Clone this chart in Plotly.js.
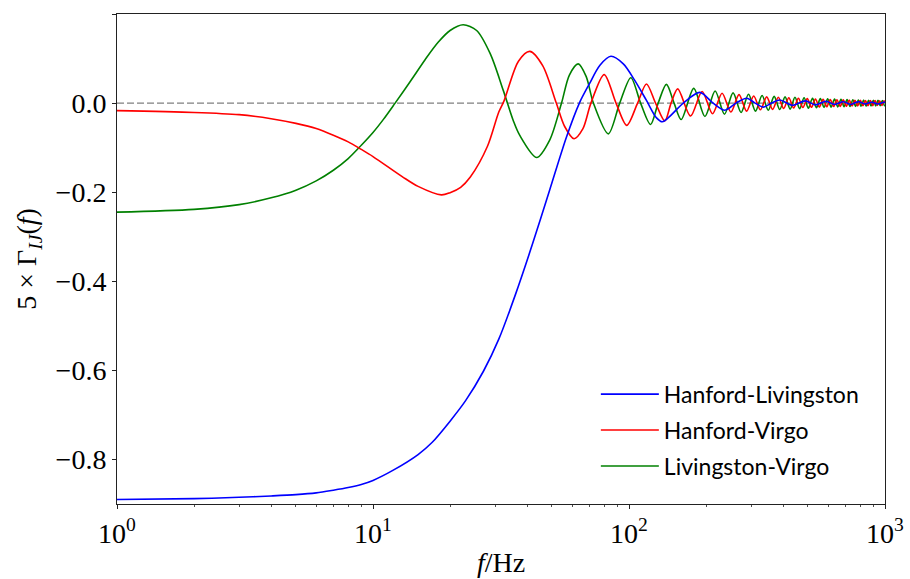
<!DOCTYPE html>
<html>
<head>
<meta charset="utf-8">
<script src="https://cdn.plot.ly/plotly-3.0.1.min.js"></script>
<style>
  html, body { margin: 0; padding: 0; background: #ffffff; }
  #plot { width: 910px; height: 579px; }
</style>
</head>
<body>
<div id="plot"></div>
<script>
// Overlap reduction functions (scaled by 5) for the three detector pairs.

// Hanford-Livingston
const freqHL = [1, 2, 3, 4, 5, 6, 7, 8, 9, 10, 12, 15, 17, 20, 23, 27, 31, 36, 42, 49,
  57, 64, 70, 77, 85, 95, 105, 117, 128, 135, 163, 189, 213, 237, 262, 288, 311, 334,
  361, 388, 435, 488, 535, 588, 635, 688, 735, 788, 835, 888, 935, 988, 1000];
const gammaHL = [-0.890, -0.888, -0.885, -0.882, -0.879, -0.875, -0.869, -0.863, -0.856, -0.847,
  -0.824, -0.789, -0.762, -0.714, -0.668, -0.602, -0.530, -0.430, -0.316, -0.195,
  -0.076, 0.000, 0.043, 0.085, 0.105, 0.088, 0.052, 0.006, -0.033, -0.042, 0.000, 0.024,
  0.000, -0.016, 0.000, 0.011, 0.000, -0.009, 0.000, 0.007, -0.005, 0.005, -0.004, 0.004,
  -0.003, 0.003, -0.003, 0.003, -0.002, 0.002, -0.002, 0.002, 0.0015];

// Hanford-Virgo
const freqHV = [1, 2, 3, 4, 5, 6, 7, 8, 9, 10, 13, 15, 18.5, 20, 22, 24, 28, 31, 32.5, 37, 41,
  46, 52, 56, 61, 66, 71, 80, 89, 98, 108, 117, 127, 138, 146, 155,
  174, 193, 212, 231, 250, 269, 288, 307, 326, 345, 364, 383, 402, 421, 440, 459, 478,
  497, 516, 535, 554, 573, 592, 611, 630, 649, 668, 687, 706, 725, 744, 763, 782, 801,
  820, 839, 858, 877, 896, 915, 934, 953, 972, 991, 1000];
const gammaHV = [-0.017, -0.021, -0.026, -0.035, -0.0455, -0.057, -0.072, -0.087, -0.104, -0.120,
  -0.165, -0.187, -0.206, -0.201, -0.189, -0.166, -0.097, -0.020, 0.005, 0.094, 0.116,
  0.084, 0.000, -0.052, -0.080, -0.058, 0.000, 0.064, 0.000, -0.050, 0.000, 0.043, 0.000,
  -0.040, 0.000, 0.032,
  -0.029, 0.026, -0.024, 0.022, -0.020, 0.019, -0.018, 0.016, -0.015, 0.014, -0.014, 0.013,
  -0.012, 0.012, -0.011, 0.011, -0.010, 0.010, -0.0095, 0.0092, -0.0089, 0.0086, -0.0083,
  0.0080, -0.0078, 0.0076, -0.0074, 0.0072, -0.0070, 0.0068, -0.0066, 0.0065, -0.0063,
  0.0062, -0.0060, 0.0059, -0.0058, 0.0057, -0.0056, 0.0055, -0.0054, 0.0053, -0.0052,
  0.0051, 0.0005];

// Livingston-Virgo
const freqLV = [1, 2, 3, 4, 5, 6, 7, 8, 9, 10, 11, 12.2, 14, 16, 18, 20, 22.5, 25.4, 28.7, 32.3,
  35.3, 37.4, 43.6, 49, 54.5, 58.5, 63.3, 68, 72.6, 83, 92, 101.7, 111, 121.4, 130, 140,
  150, 160, 179, 198, 217, 236, 255, 274, 293, 312, 331, 350, 369, 388, 407, 426, 445,
  464, 483, 502, 521, 540, 559, 578, 597, 616, 635, 654, 673, 692, 711, 730, 749, 768,
  787, 806, 825, 844, 863, 882, 901, 920, 939, 958, 977, 996, 1000];
const gammaLV = [-0.2447, -0.2385, -0.228, -0.2127, -0.1955, -0.1746, -0.1507, -0.1246, -0.0947,
  -0.066, -0.036, 0.000, 0.049, 0.098, 0.137, 0.163, 0.176, 0.163, 0.111, 0.028,
  -0.039, -0.072, -0.122, -0.083, 0.000, 0.063, 0.088, 0.060, 0.000, -0.069, 0.000, 0.057,
  0.000, -0.048, 0.000, 0.042, 0.000, -0.037,
  0.033, -0.030, 0.027, -0.025, 0.023, -0.021, 0.020, -0.018, 0.017, -0.016, 0.015,
  -0.0145, 0.014, -0.0135, 0.013, -0.0125, 0.012, -0.0115, 0.011, -0.0105, 0.010, -0.0097,
  0.0094, -0.0091, 0.0088, -0.0086, 0.0084, -0.0081, 0.0079, -0.0077, 0.0075, -0.0073,
  0.0071, -0.0070, 0.0068, -0.0067, 0.0065, -0.0064, 0.0063, -0.0062, 0.0060, -0.0059,
  0.0058, -0.0057, -0.0050];

// Axis ticks
const yTickVals = [0.2, 0.0, -0.2, -0.4, -0.6, -0.8];
const yTickText = ['0.2', '0.0', '\u22120.2', '\u22120.4', '\u22120.6', '\u22120.8'];
const xTickVals = [1, 10, 100, 1000];
const xTickText = ['10<sup>0</sup>', '10<sup>1</sup>', '10<sup>2</sup>', '10<sup>3</sup>'];

const serif = '"Liberation Serif", "DejaVu Serif", serif';

function curve(x, y, name, color, rank) {
  return {
    x: x, y: y, name: name, type: 'scatter', mode: 'lines',
    line: { color: color, width: 1.6, shape: 'spline', smoothing: 0.85 },
    legendrank: rank, legendgroup: name, hoverinfo: 'skip'
  };
}

const traces = [
  curve(freqLV, gammaLV, 'Livingston-Virgo', '#008000', 3),
  curve(freqHV, gammaHV, 'Hanford-Virgo', '#ff0000', 2),
  curve(freqHL, gammaHL, 'Hanford-Livingston', '#0000ff', 1)
];

const axisCommon = {
  showgrid: false, zeroline: false,
  showline: true, mirror: true, linecolor: '#222222', linewidth: 1,
  ticks: 'outside', ticklen: 4, tickwidth: 1, tickcolor: '#222222',
  tickfont: { family: serif, size: 28, color: '#000000' }
};

const layout = {
  width: 910, height: 579,
  margin: { l: 117, r: 25, t: 14, b: 75 },
  paper_bgcolor: '#ffffff', plot_bgcolor: '#ffffff',
  showlegend: true,
  legend: {
    x: 0.6235, y: 0.268, xanchor: 'left', yanchor: 'top',
    bgcolor: 'rgba(0,0,0,0)', borderwidth: 0,
    font: { family: 'Lato, "Open Sans", sans-serif', size: 23, color: '#000000' },
    tracegroupgap: 3, itemwidth: 58
  },
  xaxis: Object.assign({}, axisCommon, {
    type: 'log', range: [0, 3],
    tickmode: 'array', tickvals: xTickVals, ticktext: xTickText,
    minor: { ticks: 'outside', ticklen: 2, tickwidth: 0.8, tickcolor: '#222222', dtick: 'D1' },
    title: { text: '<i>f</i>/Hz', font: { family: serif, size: 28, color: '#000000' }, standoff: 4 }
  }),
  yaxis: Object.assign({}, axisCommon, {
    range: [-0.9, 0.2],
    tickmode: 'array', tickvals: yTickVals, ticktext: yTickText,
    title: { text: '5 \u00d7 \u0393<sub><i>IJ</i></sub>(<i>f</i>)', font: { family: serif, size: 28, color: '#000000' }, standoff: 10 }
  }),
  shapes: [{
    type: 'line', xref: 'paper', x0: 0, x1: 1, yref: 'y', y0: 0, y1: 0,
    layer: 'below', line: { color: '#808080', width: 1.4, dash: '7px,3px' }
  }]
};

Plotly.newPlot('plot', traces, layout, { staticPlot: true, displayModeBar: false });
</script>
</body>
</html>
